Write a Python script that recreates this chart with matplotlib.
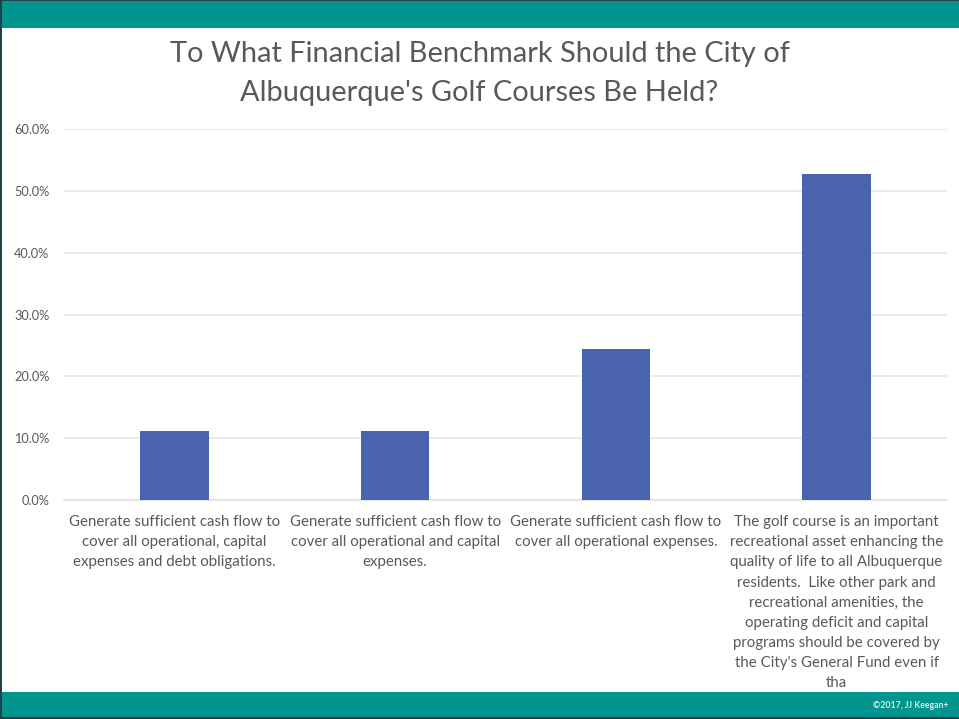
import matplotlib
matplotlib.use("Agg")
import matplotlib.pyplot as plt
from matplotlib.patches import Rectangle
from matplotlib.ticker import FuncFormatter

# Survey responses
categories = [
    "Generate sufficient cash flow to\ncover all operational, capital\nexpenses and debt obligations.",
    "Generate sufficient cash flow to\ncover all operational and capital\nexpenses.",
    "Generate sufficient cash flow to\ncover all operational expenses.",
    "The golf course is an important\nrecreational asset enhancing the\nquality of life to all Albuquerque\nresidents.  Like other park and\nrecreational amenities, the\noperating deficit and capital\nprograms should be covered by\nthe City's General Fund even if\ntha",
]
shares = [11.2, 11.2, 24.4, 52.8]
y_ticks = [0, 10, 20, 30, 40, 50, 60]
title = "To What Financial Benchmark Should the City of\nAlbuquerque's Golf Courses Be Held?"
footer = "\u00a92017, JJ Keegan+"

plt.rcParams["font.family"] = ["Lato", "DejaVu Sans"]
TEXT = "#595959"
TEAL = "#00958F"
BAR = "#4964AD"

W, H = 959, 719
fig = plt.figure(figsize=(W / 100, H / 100), dpi=100)
fig.patch.set_facecolor("white")

def fx(px):
    return px / W

def fy(py):
    return 1 - py / H

# Header and footer bands
fig.patches.append(Rectangle((0, fy(28)), 1, 28 / H, transform=fig.transFigure,
                             facecolor=TEAL, edgecolor="none", zorder=0))
fig.patches.append(Rectangle((0, 0), 1, 27 / H, transform=fig.transFigure,
                             facecolor=TEAL, edgecolor="none", zorder=0))
# Thin dark frame
for rect in [(0, 0, 2 / W, 1), (0, fy(1), 1, 1 / H), (0, 0, 1, 2 / H)]:
    fig.patches.append(Rectangle(rect[:2], rect[2], rect[3], transform=fig.transFigure,
                                 facecolor="#24404A", edgecolor="none", zorder=1))

ax = fig.add_axes([fx(64), fy(500), fx(947 - 64), (500 - 129) / H])
x = range(len(shares))
ax.bar(x, shares, width=0.31, color=BAR, zorder=3)
ax.set_xlim(-0.5, len(shares) - 0.5)
ax.set_ylim(0, 60)
ax.set_yticks(y_ticks)
ax.yaxis.set_major_formatter(FuncFormatter(lambda v, _: f"{v:.1f}%"))
ax.grid(axis="y", color="#E6E6E6", linewidth=1.2, zorder=0)
for s in ["top", "right", "left"]:
    ax.spines[s].set_visible(False)
ax.spines["bottom"].set_color("#E0E0E0")
ax.spines["bottom"].set_linewidth(1.2)
ax.tick_params(axis="y", length=0, pad=10.5, labelsize=9.2, labelcolor=TEXT)
ax.tick_params(axis="x", length=0)
ax.set_xticks(list(x))
ax.set_xticklabels([])

for i, label in enumerate(categories):
    ax.annotate(label, xy=(i, 0), xycoords=("data", "axes fraction"),
                xytext=(0, -11), textcoords="offset points",
                ha="center", va="top", fontsize=10.8, color=TEXT,
                linespacing=1.555)

fig.text(0.5, fy(73.5), title, ha="center", va="center", fontsize=20.9,
         color=TEXT, linespacing=1.61)
fig.text(fx(949), fy(705), footer, ha="right", va="center", fontsize=6.3,
         fontweight="bold", color="#D8EFEE")

fig.savefig("out.png", dpi=100)
